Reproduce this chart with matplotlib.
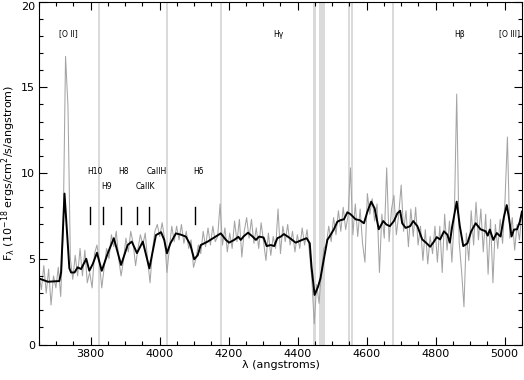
import numpy as np
import matplotlib.pyplot as plt
from matplotlib.ticker import MultipleLocator

# Observed spectrum (grey), sampled every 7 angstroms from 3650 to 5050
obs_wave = np.arange(3650, 5051, 7)
obs_flux = [
    4.1, 3.2, 4.6, 3.0, 4.4, 2.3, 4.0, 3.3, 4.5, 2.8,
    6.5, 16.8, 13.9, 5.0, 3.8, 5.2, 4.0, 5.6, 4.0, 5.5,
    3.6, 4.2, 3.3, 5.3, 5.8, 4.8, 3.3, 4.5, 5.6, 5.0,
    6.4, 5.7, 6.6, 5.0, 4.0, 4.9, 6.2, 5.4, 6.6, 5.9,
    4.6, 5.6, 6.4, 5.8, 6.5, 4.9, 3.6, 5.5, 6.6, 7.0,
    6.3, 7.1, 6.2, 4.2, 5.6, 6.9, 6.0, 6.9, 6.1, 7.0,
    5.9, 6.6, 5.6, 6.1, 4.5, 5.0, 5.8, 5.3, 6.6, 5.7,
    6.8, 5.8, 6.9, 6.0, 6.3, 8.2, 5.8, 6.8, 5.4, 6.5,
    5.6, 7.2, 6.0, 7.3, 5.1, 6.6, 7.4, 6.2, 7.3, 5.9,
    6.8, 5.6, 7.1, 6.0, 4.9, 6.5, 5.2, 6.3, 5.6, 7.9,
    5.3, 6.9, 6.0, 7.0, 5.8, 6.6, 5.4, 6.4, 5.6, 6.8,
    5.8, 6.7, 5.4, 3.8, 1.2, 3.5, 2.4, 4.3, 5.6, 5.8,
    6.9, 6.0, 7.4, 6.4, 7.8, 6.6, 8.0, 6.7, 7.5, 10.3,
    6.4, 8.2, 6.3, 7.9, 5.9, 4.8, 8.8, 7.6, 8.5, 7.2,
    8.2, 4.2, 7.6, 6.2, 10.3, 6.0, 7.9, 8.7, 6.4, 7.6,
    9.3, 6.6, 7.8, 5.7, 7.9, 6.3, 8.0, 5.8, 6.9, 4.9,
    6.7, 4.7, 6.3, 5.3, 6.9, 4.8, 6.9, 4.2, 7.6, 5.5,
    7.2, 4.8, 7.4, 14.6, 6.0, 4.3, 2.2, 6.5, 4.9, 7.8,
    5.8, 8.3, 6.1, 7.9, 5.4, 7.6, 4.1, 7.3, 3.6, 7.0,
    5.6, 7.3, 5.9, 8.4, 12.1, 6.2, 7.4, 5.5, 7.0, 6.1,
    7.8,
]

# Smoothed model (black)
model_wave = [
    3650, 3676, 3709, 3714, 3724, 3738, 3743, 3753, 3762, 3772,
    3787, 3796, 3806, 3818, 3832, 3849, 3867, 3888, 3907, 3919,
    3934, 3951, 3970, 3989, 4004, 4013, 4021, 4031, 4047, 4062,
    4076, 4089, 4100, 4110, 4119, 4139, 4158, 4177, 4192, 4201,
    4216, 4228, 4235, 4243, 4256, 4269, 4279, 4288, 4301, 4310,
    4322, 4332, 4341, 4351, 4360, 4375, 4394, 4413, 4426, 4435,
    4440, 4449, 4459, 4466, 4476, 4486, 4495, 4505, 4515, 4524,
    4534, 4544, 4553, 4568, 4580, 4592, 4602, 4613, 4623, 4635,
    4648, 4657, 4667, 4679, 4689, 4697, 4703, 4713, 4726, 4735,
    4747, 4761, 4774, 4784, 4795, 4803, 4813, 4824, 4834, 4841,
    4848, 4861, 4870, 4880, 4892, 4903, 4916, 4930, 4945, 4951,
    4957, 4967, 4977, 4988, 4998, 5006, 5012, 5020, 5027, 5036,
    5044, 5050,
]
model_flux = [
    3.85, 3.66, 3.7, 4.2, 8.8, 4.45, 4.2, 4.2, 4.5, 4.4,
    5.0, 4.3, 4.7, 5.35, 4.3, 5.3, 6.2, 4.64, 5.8, 6.0,
    5.33, 6.0, 4.44, 6.38, 6.55, 6.1, 5.32, 5.9, 6.48, 6.4,
    6.29, 5.8, 4.97, 5.2, 5.8, 6.0, 6.24, 6.48, 6.1, 5.94,
    6.1, 6.28, 6.1, 6.3, 6.52, 6.3, 6.1, 6.29, 6.24, 5.74,
    5.8, 5.74, 6.2, 6.29, 6.44, 6.24, 5.94, 6.1, 6.2, 5.9,
    4.54, 2.89, 3.37, 3.86, 5.0, 6.1, 6.38, 6.72, 7.16, 7.25,
    7.3, 7.71, 7.6, 7.3, 7.25, 7.07, 7.74, 8.33, 7.94, 6.72,
    7.2, 7.0, 6.9, 7.2, 7.65, 7.8, 7.07, 6.8, 6.9, 7.2,
    6.9, 6.13, 5.9, 5.7, 6.0, 6.26, 6.13, 6.6, 6.4, 5.94,
    6.9, 8.33, 6.9, 5.74, 5.9, 6.6, 7.07, 6.72, 6.6, 6.35,
    6.7, 6.1, 6.5, 6.3, 7.45, 8.13, 7.45, 6.3, 6.7, 6.72,
    7.16, 7.74,
]

# Masked regions (grey bands)
mask_lo = [3820, 4017, 4176, 4445, 4463, 4547, 4555, 4674]
mask_hi = [3826, 4023, 4182, 4454, 4480, 4553, 4559, 4680]

# Emission line labels
emis_names = ['[O II]', 'Hγ', 'Hβ', '[O III]']
emis_pos = [3736, 4344, 4868, 5013]

# Absorption line labels (two rows) and tick marks
abs_names_top = ['H10', 'H8', 'CaIIH', 'Hδ']
abs_pos_top = [3812, 3896, 3990, 4113]
abs_names_low = ['H9', 'CaIIK']
abs_pos_low = [3846, 3958]
abs_ticks = [3798, 3835, 3889, 3934, 3968, 4102]

fig = plt.figure(figsize=(5.24, 3.80), dpi=100)
ax = fig.add_axes([0.0744, 0.0934, 0.9216, 0.9026])

for lo, hi in zip(mask_lo, mask_hi):
    ax.axvspan(lo, hi, color='#dadada', lw=0, zorder=0)

ax.plot(obs_wave, obs_flux, color='#a4a4a4', lw=0.75, zorder=1)
ax.plot(model_wave, model_flux, color='black', lw=1.4, zorder=2,
        solid_joinstyle='round')

for name, x in zip(emis_names, emis_pos):
    ax.text(x, 18.1, name, fontsize=5.5, ha='center', va='center')
for name, x in zip(abs_names_top, abs_pos_top):
    ax.text(x, 10.1, name, fontsize=5.5, ha='center', va='center')
for name, x in zip(abs_names_low, abs_pos_low):
    ax.text(x, 9.2, name, fontsize=5.5, ha='center', va='center')
for x in abs_ticks:
    ax.plot([x, x], [7.0, 8.0], color='black', lw=1.0)

ax.set_xlim(3650, 5050)
ax.set_ylim(0, 20)
ax.xaxis.set_major_locator(MultipleLocator(200))
ax.xaxis.set_minor_locator(MultipleLocator(50))
ax.yaxis.set_major_locator(MultipleLocator(5))
ax.yaxis.set_minor_locator(MultipleLocator(1))
ax.tick_params(which='both', direction='in', top=True, right=True,
               labelsize=8, width=0.8, pad=3)
ax.tick_params(which='major', length=6)
ax.tick_params(which='minor', length=3)
for sp in ax.spines.values():
    sp.set_linewidth(0.8)

ax.set_yticks([0, 5, 10, 15, 20])
ax.set_yticklabels(['0', '5', '10', '15', '20'])
ax.get_yticklabels()[-1].set_va('top')

ax.set_xlabel('λ (angstroms)', fontsize=8, labelpad=1)
ax.set_ylabel(r'F$_{\mathrm{\lambda}}$ (10$^{-18}$ ergs/cm$^2$/s/angstrom)',
              fontsize=8, labelpad=2)

fig.savefig('out.png', dpi=100)
